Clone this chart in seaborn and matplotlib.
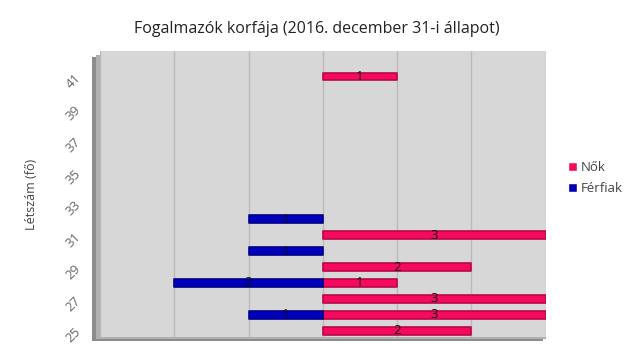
import pandas as pd
import numpy as np
import matplotlib
matplotlib.use('Agg')
import matplotlib.pyplot as plt
import seaborn as sns
from matplotlib.patches import Rectangle

sns.set_style('white')
plt.rcParams['font.family'] = ['Open Sans', 'DejaVu Sans']

# data
ages_women = [25, 26, 27, 28, 29, 31, 41]
women = [2, 3, 3, 1, 2, 3, 1]
ages_men = [26, 28, 30, 32]
men = [1, 2, 1, 1]

title = "Fogalmazók korfája (2016. december 31-i állapot)"
ylabel = "Létszám (fő)"
yticks = list(range(25, 42, 2))

df = pd.concat([
    pd.DataFrame({'age': ages_women, 'value': women, 'sex': 'Nők'}),
    pd.DataFrame({'age': ages_men, 'value': [-v for v in men], 'sex': 'Férfiak'}),
])

pink = '#f50a5e'
blue = '#0000b8'

fig = plt.figure(figsize=(6.33, 3.6), dpi=100)
ax = fig.add_axes([0.158, 0.064, 0.704, 0.794])

# shadow of the plot area
fig.patches.append(Rectangle((0.145, 0.052), 0.713, 0.79, transform=fig.transFigure,
                             facecolor='#8c8c8c', edgecolor='none', zorder=-2))
fig.patches.append(Rectangle((0.152, 0.058), 0.711, 0.79, transform=fig.transFigure,
                             facecolor='#b0b0b0', edgecolor='none', zorder=-1))

ax.set_facecolor('#d7d7d7')
sns.barplot(data=df, x='value', y='age', hue='sex', orient='y', native_scale=True,
            dodge=False, width=0.5, saturation=1, palette={'Nők': pink, 'Férfiak': blue},
            hue_order=['Nők', 'Férfiak'], ax=ax, legend=False)

for p in ax.patches:
    fc = p.get_facecolor()
    p.set_edgecolor(tuple(c * 0.75 for c in fc[:3]) + (1,))
    p.set_linewidth(1.2)
    p.set_joinstyle('round')

for a, v in zip(ages_women, women):
    ax.text(v / 2, a, str(v), ha='center', va='center', fontsize=9.5, color='#111111')
for a, v in zip(ages_men, men):
    ax.text(-v / 2, a, str(v), ha='center', va='center', fontsize=9.5, color='#111111')

ax.set_xlim(-3, 3)
ax.set_ylim(24.6, 42.6)
ax.set_xticks(np.arange(-3, 4, 1))
ax.set_xticklabels([])
ax.xaxis.grid(True, color='#bababa', linewidth=1)
ax.set_axisbelow(True)
ax.set_yticks(yticks)
ax.set_yticklabels([str(t) for t in yticks], rotation=45, fontsize=9.5, color='#666666')
ax.tick_params(axis='y', length=0, pad=12)
ax.tick_params(axis='x', length=0)
for s in ax.spines.values():
    s.set_visible(False)
ax.set_xlabel('')
ax.set_ylabel(ylabel, fontsize=9, color='#444444', labelpad=18)

fig.text(0.5, 0.92, title, ha='center', va='center', fontsize=11.5, color='#222222')

handles = [Rectangle((0, 0), 1, 1, facecolor=pink), Rectangle((0, 0), 1, 1, facecolor=blue)]
fig.legend(handles, ['Nők', 'Férfiak'], loc='center left', bbox_to_anchor=(0.878, 0.505),
           frameon=False, fontsize=9.5, handlelength=0.7, handleheight=0.7,
           handletextpad=0.3, labelspacing=0.6, labelcolor='#444444')

fig.savefig('out.png', dpi=100)
